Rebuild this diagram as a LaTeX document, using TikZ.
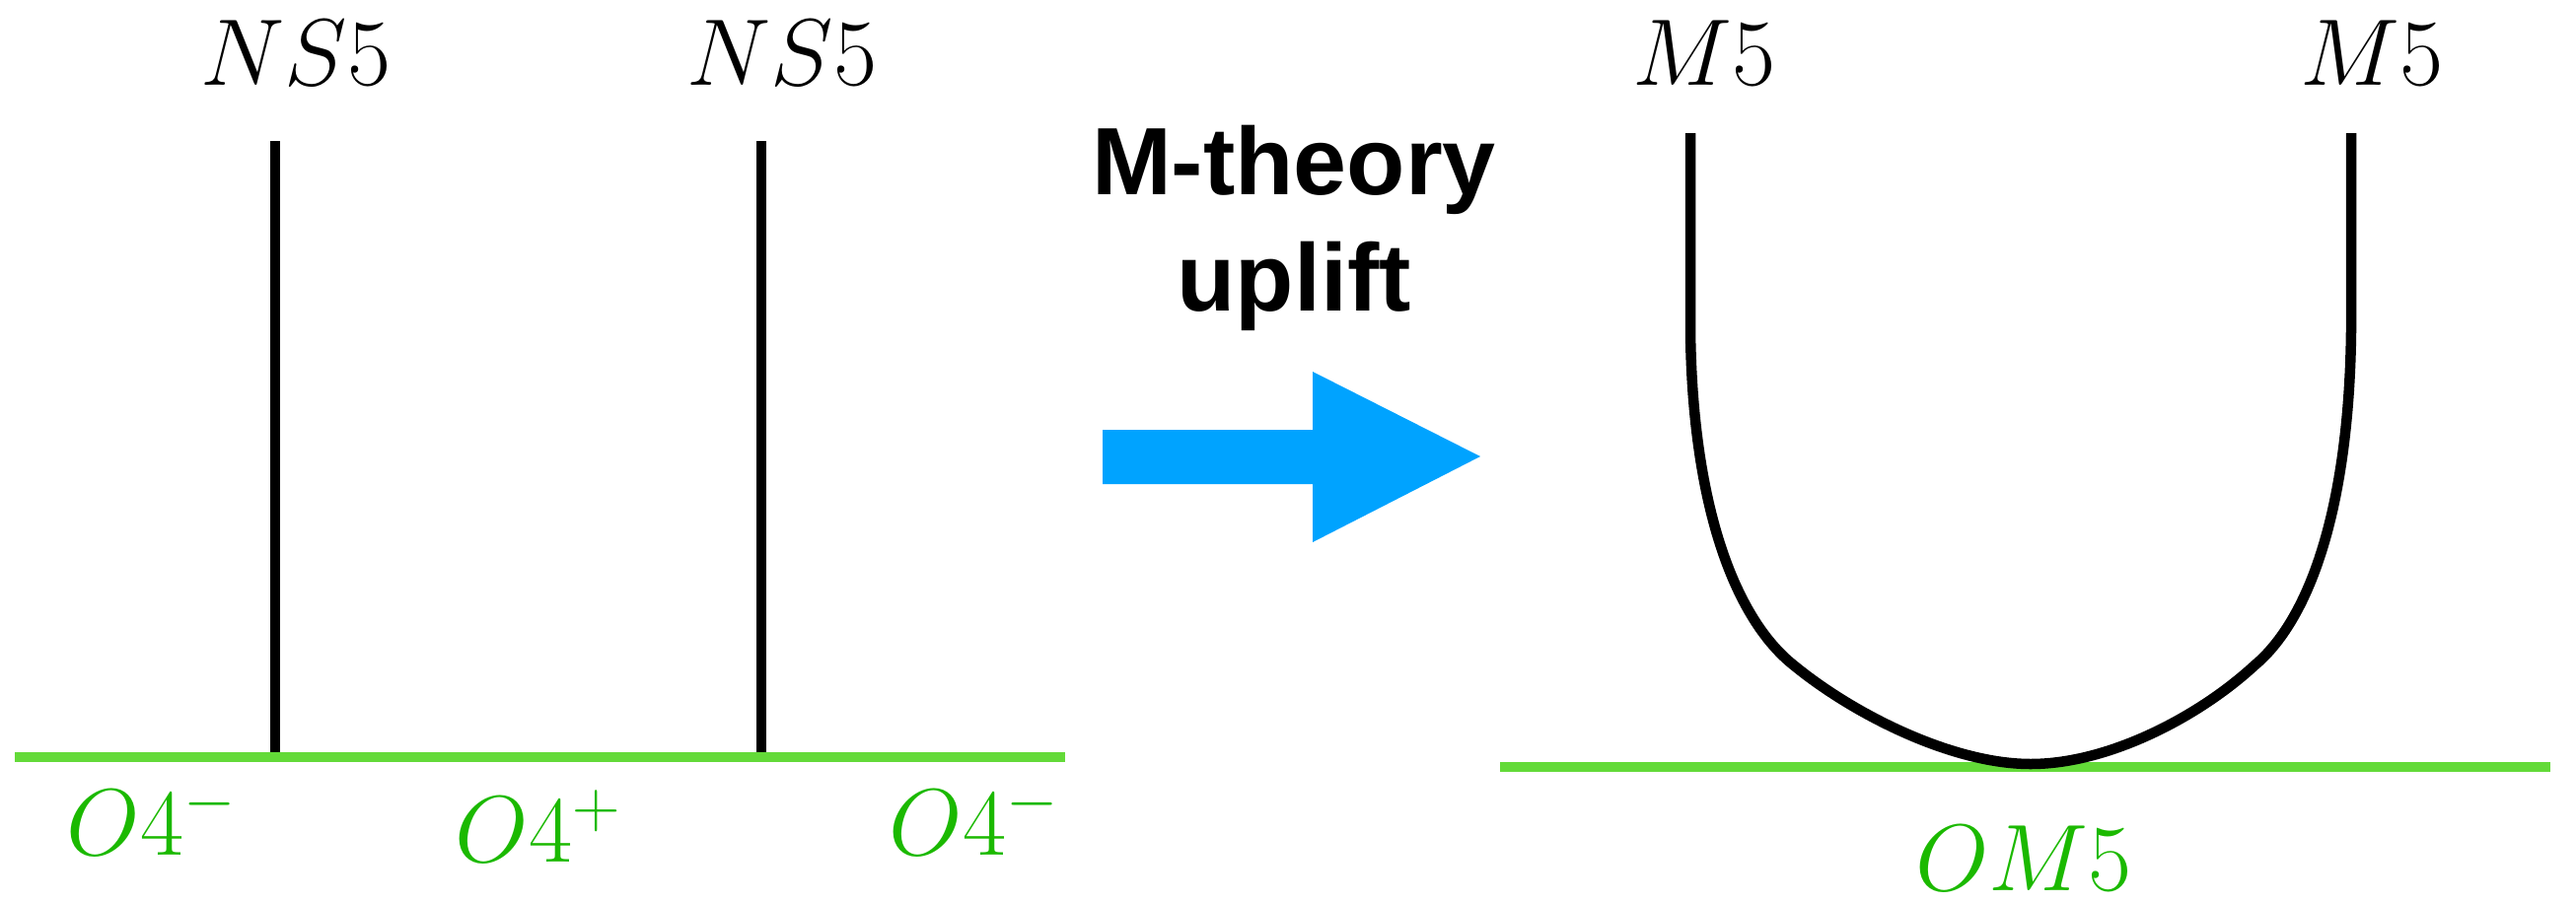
\RequirePackage{fix-cm}
\documentclass[tikz,border=0pt]{standalone}
\usepackage{fontspec}
\newfontfamily\upliftfont{Liberation Sans}
\usepackage{xcolor}
\definecolor{planegreen}{RGB}{99,218,56}
\definecolor{labelgreen}{RGB}{27,185,0}
\definecolor{arrowblue}{RGB}{0,163,255}

\begin{document}
\begin{tikzpicture}[
  x=0.01cm, y=-0.01cm,
  every node/.style={inner sep=0pt, anchor=base, font=\fontsize{27.3}{33}\selectfont},
  brane/.style={line width=0.105cm, black},
  plane/.style={line width=0.105cm, planegreen},
  planelabel/.style={text=labelgreen},
  upliftlabel/.style={font=\upliftfont\bfseries\fontsize{27.6}{33.3}\selectfont, align=center}
]
\useasboundingbox (0,0) rectangle (2612,915);

% IIA side: two NS5 branes on the O4 plane
\node (nsa) at (300,86) {$NS5$};
\node (nsb) at (793,86) {$NS5$};
\coordinate (nsatop) at (279,143);
\coordinate (nsabot) at (279,768);
\coordinate (nsbtop) at (772,143);
\coordinate (nsbbot) at (772,768);
\coordinate (oleft) at (15,768);
\coordinate (oright) at (1080,768);

\draw[brane] (nsatop) -- (nsabot);
\draw[brane] (nsbtop) -- (nsbbot);
\draw[plane] (oleft) -- (oright);

\node[planelabel] (ominusa) at (154,867) {$O4^-$};
\node[planelabel] (oplus) at (546,874) {$O4^+$};
\node[planelabel] (ominusb) at (988,867) {$O4^-$};

% the uplift arrow (base = last line)
\node[upliftlabel] (upl) at (1312,315) {M-theory\\uplift};
\fill[arrowblue] (1118,436) -- (1331,436) -- (1331,377) -- (1501,463)
  -- (1331,550) -- (1331,491) -- (1118,491) -- cycle;

% M-theory side: one M5 bending down to the OM5
\node (ma) at (1728,86) {$M5$};
\node (mb) at (2405,86) {$M5$};
\coordinate (matop) at (1714,135);
\coordinate (mabend) at (1714,335);
\coordinate (mbtop) at (2384,135);
\coordinate (mbbend) at (2384,335);
\coordinate (omleft) at (1521,778);
\coordinate (omright) at (2586,778);

\draw[plane] (omleft) -- (omright);
\draw[brane] (matop) -- (mabend)
  .. controls (1716,520) and (1762,630) .. (1819,675)
  .. controls (1880,725) and (1980,775) .. (2059,775)
  .. controls (2140,775) and (2232,725) .. (2286,675)
  .. controls (2340,630) and (2382,520) .. (mbbend) -- (mbtop);

\node[planelabel] (om) at (2052,903) {$OM5$};
\end{tikzpicture}
\end{document}
